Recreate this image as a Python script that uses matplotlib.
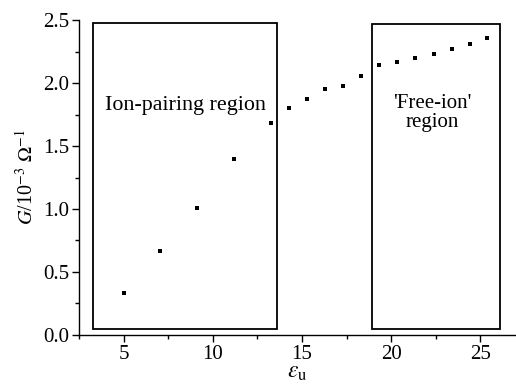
import matplotlib
matplotlib.use("Agg")
import matplotlib.pyplot as plt
from matplotlib.patches import Rectangle
from matplotlib.ticker import MultipleLocator

plt.rcParams['font.family'] = ['Liberation Serif', 'DejaVu Serif']
plt.rcParams['mathtext.fontset'] = 'stix'

eps = [5.0, 7.05, 9.1, 11.2, 13.25, 14.27, 15.27, 16.3, 17.3, 18.3, 19.3, 20.32, 21.36, 22.4, 23.4, 24.4, 25.4]
G = [0.33, 0.67, 1.01, 1.40, 1.68, 1.80, 1.87, 1.95, 1.98, 2.06, 2.14, 2.17, 2.20, 2.23, 2.27, 2.31, 2.36]

boxes = [(3.3, 13.6, 0.05, 2.48), (18.9, 26.1, 0.045, 2.47)]
labels = ["Ion-pairing region", "'Free-ion'\nregion"]
label_pos = [(8.45, 1.82), (22.3, 1.76)]
label_sizes = [15.8, 15.0]

fig = plt.figure(figsize=(5.16, 3.88), dpi=100)
ax = fig.add_axes([0.153, 0.137, 0.847, 0.811])
ax.plot(eps, G, 's', color='black', ms=3.3, mew=0)

for (x0, x1, y0, y1) in boxes:
    ax.add_patch(Rectangle((x0, y0), x1 - x0, y1 - y0, fill=False, ec='black', lw=1.3))
for txt, (x, y), fs in zip(labels, label_pos, label_sizes):
    ax.text(x, y, txt, ha='center', va='center', fontsize=fs, linespacing=1.0)

ax.set_xlim(2.5, 27)
ax.set_ylim(0, 2.5)
ax.xaxis.set_major_locator(MultipleLocator(5))
ax.xaxis.set_minor_locator(MultipleLocator(2.5))
ax.yaxis.set_major_locator(MultipleLocator(0.5))
ax.yaxis.set_minor_locator(MultipleLocator(0.25))
ax.yaxis.set_major_formatter(matplotlib.ticker.FormatStrFormatter('%.1f'))
for s in ['top', 'right']:
    ax.spines[s].set_visible(False)
for s in ['left', 'bottom']:
    ax.spines[s].set_linewidth(1.0)
ax.tick_params(which='major', direction='out', length=5, width=1, labelsize=15, pad=2)
ax.tick_params(which='minor', direction='out', length=3, width=1)
ax.set_xlabel(r'$\varepsilon_{\mathrm{u}}$', fontsize=17, labelpad=-1)
ax.set_ylabel(r'$G$/10$^{-3}$ $\Omega^{-1}$', fontsize=14.5, labelpad=4)

fig.savefig('out.png', dpi=100)
